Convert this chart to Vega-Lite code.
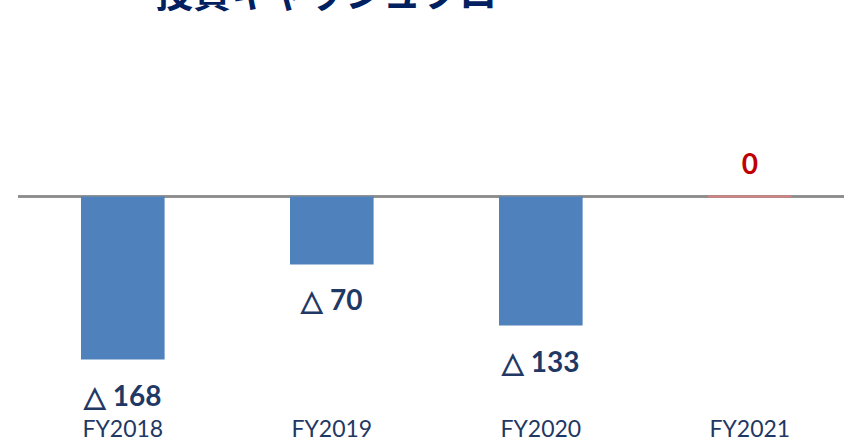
{
  "$schema": "https://vega.github.io/schema/vega-lite/v6.json",
  "autosize": {"type": "none"},
  "padding": {"left": 18, "top": 20, "right": 0, "bottom": 32},
  "width": 826,
  "height": 389,
  "title": {
    "text": "投資キャッシュフロー",
    "anchor": "start",
    "dx": 138,
    "dy": -1,
    "baseline": "top",
    "font": "Noto Sans CJK JP",
    "fontSize": 38,
    "fontWeight": "bold",
    "color": "#002060"
  },
  "config": {"view": {"stroke": null}},
  "data": {
    "values": [
      {"year": "FY2018", "value": -168, "label": "△ 168"},
      {"year": "FY2019", "value": -70, "label": "△ 70"},
      {"year": "FY2020", "value": -133, "label": "△ 133"},
      {"year": "FY2021", "value": 0, "label": "0"}
    ]
  },
  "layer": [
    {
      "mark": {"type": "rule", "color": "#8C8C8C", "strokeWidth": 2},
      "encoding": {"y": {"datum": 0, "type": "quantitative", "scale": {"domain": [-219, 182], "nice": false, "zero": false}, "axis": null}}
    },
    {
      "mark": {"type": "bar", "color": "#4F81BD"},
      "encoding": {
        "x": {
          "field": "year",
          "type": "nominal",
          "sort": null,
          "scale": {"paddingInner": 0.6, "paddingOuter": 0.276, "align": 0.546},
          "axis": {
            "title": null,
            "domain": false,
            "ticks": false,
            "labelAngle": 0,
            "labelFont": "Lato",
            "labelFontSize": 23,
            "labelColor": "#1F3864",
            "labelPadding": 9
          }
        },
        "y": {"field": "value", "type": "quantitative"}
      }
    },
    {
      "transform": [{"filter": "datum.value >= 0"}],
      "mark": {"type": "bar", "color": "#D98080", "stroke": "#D98080", "strokeWidth": 2},
      "encoding": {
        "x": {"field": "year", "type": "nominal", "sort": null},
        "y": {"field": "value", "type": "quantitative"}
      }
    },
    {
      "transform": [{"filter": "datum.value < 0"}],
      "mark": {
        "type": "text",
        "dy": 38,
        "baseline": "middle",
        "font": "Lato",
        "fontSize": 28,
        "fontWeight": "bold",
        "color": "#1F3864"
      },
      "encoding": {
        "x": {"field": "year", "type": "nominal", "sort": null},
        "y": {"field": "value", "type": "quantitative"},
        "text": {"field": "label"}
      }
    },
    {
      "transform": [{"filter": "datum.value >= 0"}],
      "mark": {
        "type": "text",
        "dy": -31,
        "baseline": "middle",
        "font": "Lato",
        "fontSize": 28,
        "fontWeight": "bold",
        "color": "#C00000"
      },
      "encoding": {
        "x": {"field": "year", "type": "nominal", "sort": null},
        "y": {"field": "value", "type": "quantitative"},
        "text": {"field": "label"}
      }
    }
  ]
}
